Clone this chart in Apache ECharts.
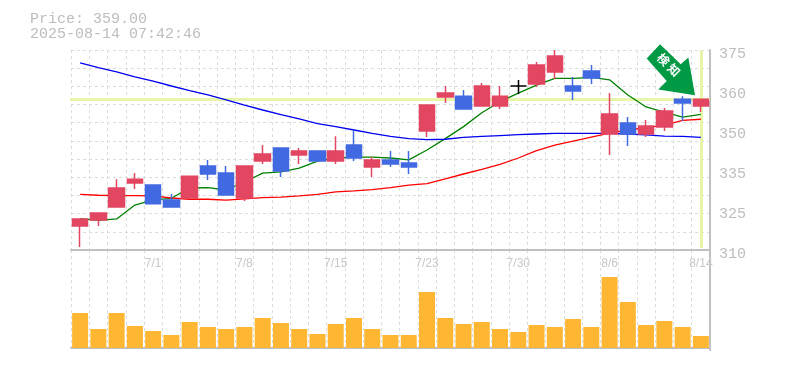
<!DOCTYPE html>
<html>
<head>
<meta charset="utf-8">
<script src="https://cdn.jsdelivr.net/npm/echarts@6/dist/echarts.min.js"></script>
<style>html,body{margin:0;padding:0;background:#fff}#c{width:785px;height:370px}</style>
</head>
<body>
<div id="c"></div>
<script>
const dates = ['6/25','6/26','6/27','6/30','7/1','7/2','7/3','7/4','7/7','7/8','7/9','7/10','7/11','7/14','7/15','7/16','7/17','7/18','7/22','7/23','7/24','7/25','7/28','7/29','7/30','7/31','8/1','8/4','8/5','8/6','8/7','8/8','8/12','8/13','8/14'];
const opens = [317.8,319.75,324,331.8,331.1,326.25,326.9,337.3,335,326.9,338.9,343.15,340.9,342.2,338.9,344.1,337,339.25,338.3,348.7,359.7,360,356.8,356.8,363.3,363.95,367.85,363.3,368.2,347.7,351.3,347.7,350,359,356.8];
const closes = [320.1,322,330.15,333,325,324,334,334.7,327.9,337.3,341.2,335.7,342.2,338.9,342.2,339.9,339.25,337.95,337,357.1,361,355.8,363.3,360,363.3,370.1,373.05,361.7,365.9,354.2,347.7,350.3,355.2,357.8,359];
const lows = [311,317.8,324,329.8,325,324,326.9,332.75,327.9,325.9,337.95,333.7,337.95,338.9,337.95,338.9,333.7,337,334.7,346.7,357.8,355.8,356.8,355.8,360.7,363,365.6,358.75,363.95,340.9,343.8,346.7,348.7,351.9,354.85];
const highs = [320.1,322,333,335,331.1,328.2,334,339.25,337.3,337.3,344.1,343.15,343.15,342.2,347,349,340.2,342.2,342.2,357.1,363.3,362,364.3,363.3,365.25,371.1,375,366.2,370.1,361,353.2,352.25,356.15,360,359];
const maShort = [320.2,319.6,320.1,324.6,326.3,326.8,330.2,330.3,329.5,332.1,335,335.4,336.6,338.9,339.9,340.2,340.2,339.9,339.3,342.5,346.2,350.1,354.6,358.2,361,363.6,365.8,365.8,366.1,365.3,360.4,356.5,354.8,353.2,354.1];
const maMid = [328.1,327.8,327.7,327.7,327.6,326.9,326.5,326.5,326.2,326.6,327,327.2,327.6,328.1,328.9,329.2,329.6,330.3,331.1,331.6,333.1,334.7,336.2,337.8,339.9,342.3,344.1,345.4,346.7,348,349,349.8,350.6,352.1,352.5];
const maLong = [370.8,369.3,367.9,366.3,364.9,363.3,361.8,360.4,358.8,357.1,355.5,354,352.6,351.1,350.1,349,347.9,346.9,346.2,345.9,346,346.6,346.9,347.2,347.5,347.7,347.9,347.9,347.9,347.9,347.7,347.4,347,346.9,346.6];
const volumes = [35,19,35,22,17,13,26,21,19,21,30,25,19,14,24,30,19,13,13,56,30,24,26,19,16,23,21,29,21,71,46,23,27,21,12];
const priceTicks = [310,325,335,350,360,375];
const shownDates = ['7/1','7/8','7/15','7/23','7/30','8/6','8/14'];
const price = 359.00;
const stamp = '2025-08-14 07:42:46';
const signalText = '検 知';

const dash = {color:'#dcdcdc',type:[3,3],width:1};
const axisGray = '#c0c0c0';
const last = dates[dates.length-1];
const candleData = dates.map((d,i)=>[opens[i],closes[i],lows[i],highs[i]]);
const arrowPath = 'path://M646.7 58.3L660 44L680.7 64L688.3 57.3L695 95L658.3 89.3L666.7 80.7Z';
const hl = {color:'#e6f5aa',type:'solid',width:3};

const chart = echarts.init(document.getElementById('c'),null,{renderer:'canvas'});
chart.setOption({
  animation:false,
  backgroundColor:'#fff',
  title:[
    {text:'Price: '+price.toFixed(2),left:30,top:12,padding:0,textStyle:{fontFamily:'Liberation Mono',fontSize:15,fontWeight:'normal',color:'#bdbdbd'}},
    {text:stamp,left:30,top:27,padding:0,textStyle:{fontFamily:'Liberation Mono',fontSize:15,fontWeight:'normal',color:'#bdbdbd'}}
  ],
  grid:[
    {left:71,top:50,width:639,height:200},
    {left:71,top:250,width:639,height:100}
  ],
  xAxis:[
    {type:'category',gridIndex:0,data:dates,boundaryGap:true,
     axisLine:{show:true,lineStyle:{color:axisGray,width:2}},axisTick:{show:false},
     axisLabel:{show:true,interval:(i,v)=>shownDates.includes(v),margin:8,fontFamily:'Liberation Sans',fontSize:12,color:'#c8c8c8',hideOverlap:false},
     splitLine:{show:true,interval:0,lineStyle:dash}},
    {type:'category',gridIndex:1,data:dates,boundaryGap:true,
     axisLine:{show:true,lineStyle:{color:axisGray,width:2}},axisTick:{show:false},axisLabel:{show:false},
     splitLine:{show:true,interval:0,lineStyle:dash}}
  ],
  yAxis:[
    {type:'value',gridIndex:0,min:310,max:375,show:false,splitLine:{show:false}},
    {type:'value',gridIndex:0,min:0,max:11,interval:1,position:'left',axisLine:{show:false},axisTick:{show:false},axisLabel:{show:false},splitLine:{show:true,lineStyle:dash}},
    {type:'value',gridIndex:0,min:0,max:5,interval:1,position:'right',
     axisLine:{show:true,lineStyle:{color:axisGray,width:2}},axisTick:{show:false},splitLine:{show:false},
     axisLabel:{show:true,margin:9,verticalAlign:'top',lineHeight:8,fontFamily:'Liberation Mono',fontSize:15,color:'#bdbdbd',formatter:v=>String(priceTicks[v])}},
    {type:'value',gridIndex:1,min:-2,max:98,position:'right',
     axisLine:{show:true,lineStyle:{color:axisGray,width:2}},axisTick:{show:false},axisLabel:{show:false},splitLine:{show:false}}
  ],
  series:[
    {name:'MA short',type:'line',xAxisIndex:0,yAxisIndex:0,data:maShort,showSymbol:false,symbol:'none',lineStyle:{color:'#008000',width:1.3},z:3},
    {name:'MA mid',type:'line',xAxisIndex:0,yAxisIndex:0,data:maMid,showSymbol:false,symbol:'none',lineStyle:{color:'#ff0000',width:1.3},z:3},
    {name:'MA long',type:'line',xAxisIndex:0,yAxisIndex:0,data:maLong,showSymbol:false,symbol:'none',lineStyle:{color:'#0000ee',width:1.3},z:3},
    {name:'Price',type:'candlestick',xAxisIndex:0,yAxisIndex:0,data:candleData,barWidth:16,z:4,
     itemStyle:{color:'#e24661',borderColor:'#e24661',color0:'#4169e1',borderColor0:'#4169e1',borderColorDoji:'#000',borderWidth:1.5},
     markLine:{silent:true,z:1,symbol:'none',label:{show:false},lineStyle:hl,
       data:[
         [{coord:[dates[0],price],x:70},{coord:[last,price],x:710}],
         [{coord:[last,375]},{coord:[last,310.65]}]
       ]},
     markPoint:{silent:true,z:6,
       data:[{coord:[last,price],symbol:arrowPath,symbolSize:[48.3,51],symbolKeepAspect:false,symbolOffset:[-30,-29.5],
         itemStyle:{color:'#009944'},
         label:{show:true,position:'inside',formatter:signalText,rotate:-45,offset:[-5,-2],color:'#fff',fontFamily:'Noto Sans CJK JP',fontWeight:'bold',fontSize:12}}]}
    },
    {name:'Volume',type:'bar',xAxisIndex:1,yAxisIndex:3,data:volumes,barWidth:16,itemStyle:{color:'#ffb733'},z:3}
  ]
});
</script>
</body>
</html>
